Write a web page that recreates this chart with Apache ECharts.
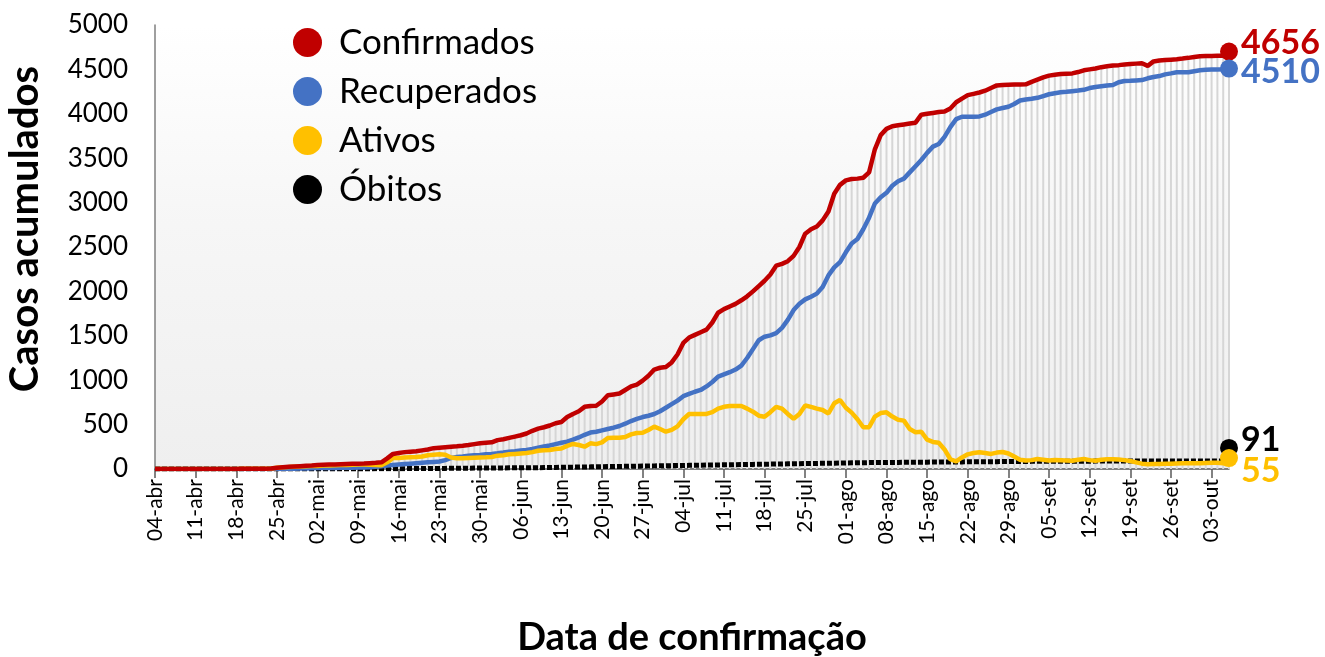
<!DOCTYPE html>
<html>
<head>
<meta charset="utf-8">
<script src="https://cdn.jsdelivr.net/npm/echarts@6/dist/echarts.min.js"></script>
<style>
  html, body { margin: 0; padding: 0; background: #fff; }
  #chart { width: 1325px; height: 657px; }
</style>
</head>
<body>
<div id="chart"></div>
<script>
// months covered by the daily series (04-abr ... 06-out)
const months = [['abr', 30], ['mai', 31], ['jun', 30], ['jul', 31], ['ago', 31], ['set', 30], ['out', 31]];

const confirmados = [
  1, 1, 1, 1, 1, 1, 1, 1, 1, 1,
  1, 1, 1, 1, 1, 2, 2, 3, 3, 4,
  5, 15, 20, 24, 28, 32, 36, 40, 45, 48,
  50, 52, 54, 56, 58, 60, 62, 66, 70, 75,
  120, 170, 180, 190, 195, 200, 210, 220, 235, 240,
  245, 250, 255, 262, 270, 280, 290, 295, 300, 325,
  335, 350, 365, 380, 400, 430, 455, 470, 490, 515,
  530, 585, 620, 650, 700, 710, 712, 760, 830, 840,
  850, 890, 930, 950, 995, 1050, 1120, 1140, 1148, 1200,
  1290, 1420, 1480, 1510, 1540, 1570, 1650, 1760, 1800, 1830,
  1860, 1900, 1945, 2000, 2060, 2120, 2190, 2290, 2310, 2340,
  2400, 2500, 2650, 2700, 2730, 2800, 2900, 3100, 3200, 3250,
  3265, 3270, 3280, 3340, 3600, 3760, 3830, 3860, 3870, 3880,
  3890, 3900, 3990, 4000, 4010, 4020, 4025, 4060, 4130, 4170,
  4210, 4225, 4240, 4260, 4290, 4320, 4325, 4328, 4330, 4330,
  4332, 4360, 4385, 4410, 4430, 4440, 4448, 4452, 4455, 4470,
  4490, 4500, 4510, 4525, 4535, 4545, 4548, 4555, 4560, 4565,
  4570, 4540, 4590, 4600, 4605, 4610, 4615, 4622, 4630, 4640,
  4648, 4650, 4652, 4654, 4655, 4656
];

const recuperados = [
  0, 0, 0, 0, 0, 0, 0, 0, 0, 0,
  0, 0, 0, 0, 0, 0, 0, 0, 0, 0,
  0, 0, 0, 2, 3, 5, 6, 8, 10, 10,
  12, 12, 14, 15, 15, 16, 18, 20, 25, 30,
  40, 45, 50, 55, 60, 65, 70, 75, 80, 85,
  100, 124, 135, 140, 148, 155, 158, 165, 170, 177,
  185, 195, 200, 208, 214, 225, 240, 255, 265, 280,
  295, 307, 330, 355, 385, 410, 420, 435, 450, 465,
  484, 510, 540, 565, 585, 600, 619, 650, 690, 730,
  770, 820, 845, 870, 890, 930, 980, 1040, 1065, 1090,
  1120, 1165, 1250, 1350, 1450, 1490, 1505, 1530, 1590, 1680,
  1790, 1860, 1910, 1940, 1975, 2050, 2180, 2270, 2330, 2440,
  2540, 2590, 2700, 2830, 2990, 3060, 3110, 3190, 3240, 3270,
  3340, 3410, 3480, 3560, 3630, 3660, 3740, 3850, 3940, 3967,
  3967, 3968, 3970, 3990, 4020, 4050, 4065, 4080, 4110, 4150,
  4162, 4170, 4180, 4200, 4220, 4232, 4242, 4248, 4255, 4262,
  4270, 4290, 4302, 4310, 4318, 4324, 4355, 4370, 4372, 4376,
  4380, 4400, 4415, 4425, 4444, 4455, 4467, 4467, 4468, 4480,
  4490, 4495, 4498, 4500, 4502, 4510
];

const ativos = [
  1, 1, 1, 1, 1, 1, 1, 1, 1, 1,
  1, 1, 1, 1, 1, 2, 2, 3, 3, 4,
  5, 15, 20, 22, 25, 28, 30, 33, 35, 38,
  40, 42, 44, 46, 48, 50, 50, 48, 45, 42,
  75, 124, 125, 130, 133, 135, 140, 155, 160, 165,
  160, 130, 120, 122, 125, 128, 130, 132, 135, 150,
  155, 165, 170, 175, 180, 190, 205, 210, 215, 225,
  230, 260, 282, 270, 251, 289, 280, 300, 350, 352,
  352, 360, 390, 405, 409, 440, 477, 450, 420, 440,
  480, 560, 619, 620, 620, 620, 640, 680, 700, 709,
  710, 709, 680, 645, 600, 589, 640, 700, 680, 620,
  565, 620, 715, 700, 680, 664, 625, 740, 777, 690,
  635, 560, 470, 470, 590, 630, 638, 590, 555, 545,
  450, 415, 420, 330, 305, 296, 220, 110, 85, 130,
  165, 180, 188, 180, 170, 185, 192, 175, 140, 105,
  95, 100, 113, 105, 96, 100, 98, 95, 92, 105,
  113, 100, 92, 105, 110, 109, 108, 100, 90, 75,
  60, 53, 55, 56, 58, 60, 62, 64, 64, 65,
  66, 68, 70, 71, 65, 55
];

const obitos = [
  0, 0, 0, 0, 0, 0, 0, 0, 0, 0,
  0, 0, 0, 0, 0, 0, 0, 0, 0, 0,
  0, 0, 0, 0, 0, 0, 0, 0, 0, 0,
  0, 0, 0, 0, 0, 0, 1, 1, 2, 2,
  3, 3, 4, 4, 5, 5, 5, 6, 6, 7,
  7, 8, 8, 9, 9, 10, 10, 11, 11, 12,
  12, 13, 13, 14, 14, 15, 15, 16, 17, 18,
  19, 20, 21, 22, 23, 24, 25, 26, 27, 28,
  29, 30, 31, 32, 33, 34, 35, 36, 37, 38,
  39, 40, 41, 42, 43, 44, 45, 46, 47, 48,
  49, 50, 51, 52, 53, 54, 55, 56, 57, 58,
  59, 60, 61, 62, 63, 64, 65, 66, 67, 68,
  69, 70, 71, 72, 72, 73, 73, 74, 74, 75,
  76, 76, 77, 77, 78, 78, 79, 79, 80, 80,
  81, 81, 82, 82, 83, 83, 84, 84, 85, 85,
  85, 86, 86, 86, 87, 87, 87, 87, 88, 88,
  88, 88, 89, 89, 89, 89, 89, 90, 90, 90,
  90, 90, 90, 90, 90, 90, 90, 90, 91, 91,
  91, 91, 91, 91, 91, 91
];

// date labels dd-mmm, starting 04-abr
const datas = [];
let day = 4, mi = 0;
while (datas.length < confirmados.length) {
  datas.push(String(day).padStart(2, '0') + '-' + months[mi][0]);
  day++;
  if (day > months[mi][1]) { day = 1; mi++; }
}

const FONT = 'Lato, "Noto Sans", sans-serif';
const chart = echarts.init(document.getElementById('chart'));
const last = confirmados.length - 1;

function lastDot(name, arr, color, dotOffset, labelOffset) {
  return {
    name: name,
    type: 'scatter',
    data: [[last, arr[last]]],
    symbol: 'circle',
    symbolSize: 18,
    symbolOffset: [0, dotOffset],
    itemStyle: { color: color, opacity: 1 },
    z: 10,
    label: {
      show: true,
      position: 'right',
      distance: 3,
      offset: [0, labelOffset],
      formatter: String(arr[last]),
      color: color,
      fontFamily: FONT,
      fontWeight: 'bold',
      fontSize: 34
    },
    silent: true
  };
}

const option = {
  animation: false,
  backgroundColor: '#ffffff',
  grid: {
    left: 155,
    right: 96,
    top: 25,
    bottom: 188,
    containLabel: false,
    outerBoundsMode: 'none',
    show: true,
    borderWidth: 0,
    backgroundColor: {
      type: 'linear', x: 0, y: 0, x2: 0, y2: 1,
      colorStops: [
        { offset: 0, color: '#ffffff' },
        { offset: 0.45, color: '#f6f6f6' },
        { offset: 1, color: '#efefef' }
      ]
    }
  },
  legend: {
    orient: 'vertical',
    left: 288,
    top: 20,
    icon: 'circle',
    itemWidth: 29,
    itemHeight: 29,
    itemGap: 14,
    data: ['Confirmados', 'Recuperados', 'Ativos', 'Óbitos'],
    textStyle: {
      fontFamily: FONT,
      fontSize: 35,
      color: '#000',
      lineHeight: 29,
      padding: [0, 0, 0, 12]
    }
  },
  xAxis: {
    type: 'category',
    data: datas,
    boundaryGap: false,
    name: 'Data de confirmação',
    nameLocation: 'middle',
    nameGap: 150,
    nameTextStyle: { fontFamily: FONT, fontWeight: 'bold', fontSize: 38, color: '#000' },
    axisLine: { lineStyle: { color: '#595959', width: 1.5 } },
    axisTick: { interval: 6, length: 9, lineStyle: { color: '#595959', width: 1.5 } },
    axisLabel: {
      interval: 6,
      rotate: 90,
      margin: 10,
      fontFamily: FONT,
      fontSize: 21,
      color: '#000'
    },
    splitLine: { show: false }
  },
  yAxis: {
    type: 'value',
    min: 0,
    max: 5000,
    interval: 500,
    name: 'Casos acumulados',
    nameLocation: 'middle',
    nameRotate: 90,
    nameGap: 110,
    nameTextStyle: {
      fontFamily: FONT, fontWeight: 'bold', fontSize: 40, color: '#000',
      padding: [0, 0, 0, 36]
    },
    axisLine: { show: true, lineStyle: { color: '#7f7f7f', width: 1.5 } },
    axisTick: { show: false },
    axisLabel: {
      margin: 27,
      fontFamily: FONT,
      fontSize: 26,
      color: '#000',
      formatter: function (v) { return String(v); }
    },
    splitLine: { show: false }
  },
  series: [
    {
      name: 'drop',
      type: 'bar',
      data: confirmados,
      barWidth: 2,
      itemStyle: { color: '#d6d6d6' },
      silent: true,
      z: 1
    },
    {
      name: 'Óbitos',
      type: 'line',
      data: obitos,
      symbol: 'none',
      itemStyle: { color: '#000000' },
      lineStyle: { color: '#000000', width: 5, type: [5, 2] },
      z: 3
    },
    {
      name: 'Recuperados',
      type: 'line',
      data: recuperados,
      symbol: 'none',
      itemStyle: { color: '#4472c4' },
      lineStyle: { color: '#4472c4', width: 4.5 },
      z: 4
    },
    {
      name: 'Ativos',
      type: 'line',
      data: ativos,
      symbol: 'none',
      itemStyle: { color: '#ffc000' },
      lineStyle: { color: '#ffc000', width: 4.5 },
      z: 5
    },
    {
      name: 'Confirmados',
      type: 'line',
      data: confirmados,
      symbol: 'none',
      itemStyle: { color: '#c00000' },
      lineStyle: { color: '#c00000', width: 4.5 },
      z: 6
    },
    lastDot('Confirmados', confirmados, '#c00000', -4, -9),
    lastDot('Recuperados', recuperados, '#4472c4', 0, 4),
    lastDot('Óbitos', obitos, '#000000', -13, -8),
    lastDot('Ativos', ativos, '#ffc000', -6, 13)
  ]
};

chart.setOption(option);
</script>
</body>
</html>
